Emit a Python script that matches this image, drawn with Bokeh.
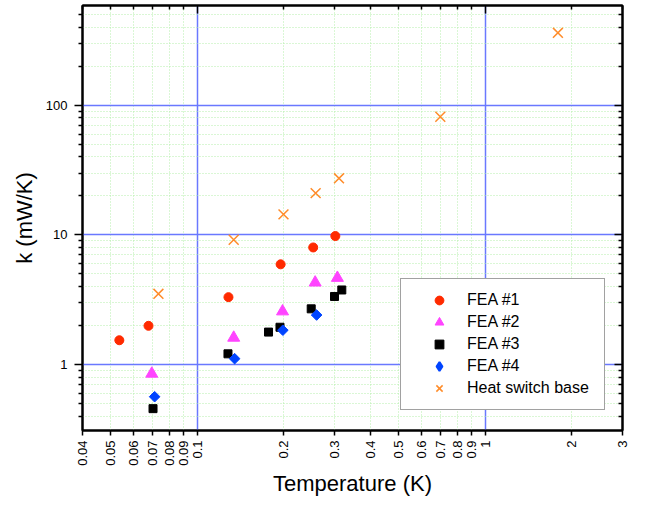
from math import pi
from bokeh.plotting import figure
from bokeh.models import (Range1d, FixedTicker, LogAxis, Legend, LegendItem)
from bokeh.embed import file_html
from bokeh.resources import INLINE

# ---- data ----
fea1_T = [0.0537, 0.0678, 0.1285, 0.195, 0.253, 0.302]
fea1_k = [1.54, 1.99, 3.31, 5.93, 8.0, 9.8]
fea2_T = [0.0696, 0.134, 0.198, 0.257, 0.307]
fea2_k = [0.85, 1.61, 2.57, 4.29, 4.66]
fea3_T = [0.0703, 0.128, 0.177, 0.194, 0.249, 0.300, 0.318]
fea3_k = [0.457, 1.21, 1.78, 1.94, 2.69, 3.35, 3.76]
fea4_T = [0.0712, 0.135, 0.1985, 0.26]
fea4_k = [0.565, 1.11, 1.84, 2.41]
hs_T = [0.0734, 0.134, 0.1995, 0.258, 0.311, 0.699, 1.79]
hs_k = [3.51, 9.18, 14.4, 21.0, 27.3, 81.5, 362]

series_names = ["FEA #1", "FEA #2", "FEA #3", "FEA #4", "Heat switch base"]

x_ticks = [0.04, 0.05, 0.06, 0.07, 0.08, 0.09, 0.1, 0.2, 0.3, 0.4, 0.5,
           0.6, 0.7, 0.8, 0.9, 1, 2, 3]
x_tick_labels = ["0.04", "0.05", "0.06", "0.07", "0.08", "0.09", "0.1", "0.2",
                 "0.3", "0.4", "0.5", "0.6", "0.7", "0.8", "0.9", "1", "2", "3"]
x_major = [0.1, 1]
x_minor = [t for t in x_ticks if t not in x_major]

y_major = [1, 10, 100]
y_major_labels = ["1", "10", "100"]
y_minor = [0.4, 0.5, 0.6, 0.7, 0.8, 0.9, 2, 3, 4, 5, 6, 7, 8, 9,
           20, 30, 40, 50, 60, 70, 80, 90, 200, 300, 400, 500]

FONT = "Liberation Sans"

p = figure(width=630, height=498, x_axis_type="log", y_axis_type="log",
           x_range=Range1d(0.04, 3), y_range=Range1d(0.31, 588),
           output_backend="svg", toolbar_location=None,
           min_border_left=82, min_border_right=8, min_border_top=5,
           min_border_bottom=50, background_fill_color="white")

p.outline_line_color = "black"
p.outline_line_width = 2

# grids
p.xgrid.ticker = FixedTicker(ticks=x_major, minor_ticks=x_minor)
p.ygrid.ticker = FixedTicker(ticks=y_major, minor_ticks=y_minor)
for g in (p.xgrid, p.ygrid):
    g.grid_line_color = "#6a78ff"
    g.grid_line_width = 1.5
    g.minor_grid_line_color = "#b5eeaa"
    g.minor_grid_line_dash = "1 2"
    g.minor_grid_line_width = 1

# bottom axis
xa = p.xaxis[0]
xa.ticker = FixedTicker(ticks=x_ticks, minor_ticks=[])
xa.major_label_overrides = dict(zip(x_ticks, x_tick_labels))
xa.major_label_orientation = pi / 2
xa.major_tick_out = 5
xa.major_tick_in = 0
xa.major_label_standoff = 5
xa.axis_label = "Temperature (K)"
xa.axis_label_standoff = 2

# left axis
ya = p.yaxis[0]
ya.ticker = FixedTicker(ticks=y_major, minor_ticks=y_minor)
ya.major_label_overrides = dict(zip(y_major, y_major_labels))
ya.major_tick_out = 8
ya.major_tick_in = 0
ya.minor_tick_out = 4
ya.minor_tick_in = 0
ya.major_label_standoff = 7
ya.axis_label = "k (mW/K)"
ya.axis_label_standoff = 6

for ax in (xa, ya):
    ax.axis_line_width = 2
    ax.major_tick_line_width = 1.5
    ax.minor_tick_line_width = 1.5
    ax.major_label_text_font = FONT
    ax.major_label_text_font_size = "13px"
    ax.major_label_text_color = "black"
    ax.axis_label_text_font = FONT
    ax.axis_label_text_font_size = "22px"
    ax.axis_label_text_font_style = "normal"
    ax.axis_label_text_color = "black"

# top and right axes: ticks only, pointing inward
top = LogAxis(ticker=FixedTicker(ticks=x_major, minor_ticks=x_minor))
right = LogAxis(ticker=FixedTicker(ticks=y_major, minor_ticks=y_minor))
for ax in (top, right):
    ax.major_tick_in = 8
    ax.major_tick_out = 0
    ax.minor_tick_in = 4
    ax.minor_tick_out = 0
    ax.axis_line_width = 2
    ax.major_tick_line_width = 1.5
    ax.minor_tick_line_width = 1.5
    ax.major_label_text_font_size = "0px"
    ax.major_label_standoff = 0
top.major_label_overrides = {t: "" for t in x_major}
right.major_label_overrides = {t: "" for t in y_major}
p.add_layout(top, "above")
p.add_layout(right, "right")

# markers
C1, C2, C3, C4, C5 = "#ff2a00", "#ff44ff", "black", "#0044ff", "#ff8c2a"
r1 = p.scatter(fea1_T, fea1_k, marker="circle", size=9,
               fill_color=C1, line_color=C1)
r2 = p.scatter(fea2_T, fea2_k, marker="triangle", size=12,
               fill_color=C2, line_color=C2)
r3 = p.scatter(fea3_T, fea3_k, marker="square", size=8,
               fill_color=C3, line_color=C3)
r4 = p.scatter(fea4_T, fea4_k, marker="square", size=7.5, angle=pi / 4,
               fill_color=C4, line_color=C4)
r5 = p.scatter(hs_T, hs_k, marker="x", size=14, line_width=1.5,
               line_color=C5)
# legend-only stand-in for the diamond symbol (not drawn in the plot)
r4_leg = p.scatter(fea4_T, fea4_k, marker="diamond", size=12, line_width=2,
                   fill_color=C4, line_color=C4, visible=False)

legend = Legend(items=[LegendItem(label=n, renderers=[r])
                       for n, r in zip(series_names,
                                       [r1, r2, r3, r4_leg, r5])],
                location=(318, 20), glyph_width=56, glyph_height=22,
                label_height=22, label_width=127, spacing=0, padding=10,
                label_standoff=0, margin=0,
                label_text_font=FONT, label_text_font_size="16px",
                label_text_color="black",
                border_line_color="#444444", border_line_width=1,
                background_fill_color="white", background_fill_alpha=1)
p.add_layout(legend, "center")

open("out.html", "w").write(file_html(p, INLINE))
